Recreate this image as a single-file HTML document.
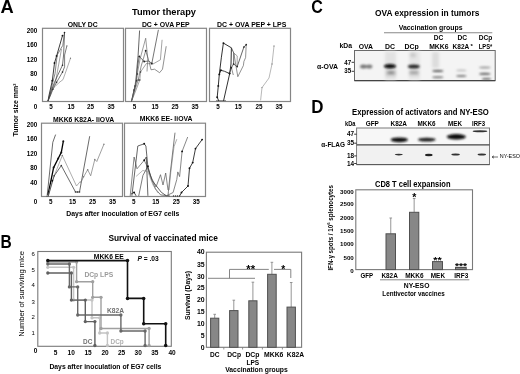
<!DOCTYPE html>
<html><head><meta charset="utf-8"><style>
html,body{margin:0;padding:0;background:#fff;}
svg{display:block;will-change:transform;font-family:"Liberation Sans", sans-serif;}
</style></head><body>
<svg width="520" height="374" viewBox="0 0 520 374">
<text x="0.6" y="13.0" font-size="18" font-weight="bold" fill="#000" textLength="13.2" lengthAdjust="spacingAndGlyphs">A</text>
<text x="132" y="14.8" font-size="9.5" font-weight="bold" fill="#000" textLength="64" lengthAdjust="spacingAndGlyphs">Tumor therapy</text>
<rect x="42.5" y="28.3" width="81.0" height="73.2" fill="none" stroke="#858585" stroke-width="1.2" />
<rect x="125.5" y="28.3" width="81.0" height="73.2" fill="none" stroke="#858585" stroke-width="1.2" />
<rect x="209.5" y="28.3" width="81.0" height="73.2" fill="none" stroke="#858585" stroke-width="1.2" />
<rect x="41.5" y="123.2" width="81.0" height="73.3" fill="none" stroke="#858585" stroke-width="1.2" />
<rect x="124.5" y="123.2" width="81.0" height="73.3" fill="none" stroke="#858585" stroke-width="1.2" />
<text x="67.7" y="27.1" font-size="6.3" font-weight="bold" fill="#000" textLength="30.1" lengthAdjust="spacingAndGlyphs">ONLY DC</text>
<text x="141.9" y="27.1" font-size="6.3" font-weight="bold" fill="#000" textLength="47.7" lengthAdjust="spacingAndGlyphs">DC + OVA PEP</text>
<text x="217" y="27.1" font-size="6.3" font-weight="bold" fill="#000" textLength="69.3" lengthAdjust="spacingAndGlyphs">DC + OVA PEP + LPS</text>
<text x="53" y="121.6" font-size="6.5" font-weight="bold" fill="#000" textLength="61.2" lengthAdjust="spacingAndGlyphs">MKK6 K82A- IiOVA</text>
<text x="139.7" y="121.2" font-size="6.5" font-weight="bold" fill="#000" textLength="52.8" lengthAdjust="spacingAndGlyphs">MKK6 EE- IiOVA</text>
<text x="37.3" y="32.5" font-size="6.3" font-weight="bold" fill="#000" text-anchor="end">200</text>
<text x="37.3" y="47.0" font-size="6.3" font-weight="bold" fill="#000" text-anchor="end">160</text>
<text x="37.3" y="61.599999999999994" font-size="6.3" font-weight="bold" fill="#000" text-anchor="end">120</text>
<text x="37.3" y="76.2" font-size="6.3" font-weight="bold" fill="#000" text-anchor="end">80</text>
<text x="37.3" y="90.89999999999999" font-size="6.3" font-weight="bold" fill="#000" text-anchor="end">40</text>
<text x="37.3" y="108.7" font-size="6.3" font-weight="bold" fill="#000" text-anchor="end">0</text>
<text x="37.3" y="126.7" font-size="6.3" font-weight="bold" fill="#000" text-anchor="end">200</text>
<text x="37.3" y="141.10000000000002" font-size="6.3" font-weight="bold" fill="#000" text-anchor="end">160</text>
<text x="37.3" y="155.5" font-size="6.3" font-weight="bold" fill="#000" text-anchor="end">120</text>
<text x="37.3" y="170.10000000000002" font-size="6.3" font-weight="bold" fill="#000" text-anchor="end">80</text>
<text x="37.3" y="184.5" font-size="6.3" font-weight="bold" fill="#000" text-anchor="end">40</text>
<text x="37.3" y="203.8" font-size="6.3" font-weight="bold" fill="#000" text-anchor="end">0</text>
<text x="50.9" y="108.9" font-size="6.3" font-weight="bold" fill="#000" text-anchor="middle">5</text>
<text x="70.9" y="108.9" font-size="6.3" font-weight="bold" fill="#000" text-anchor="middle">15</text>
<text x="90.6" y="108.9" font-size="6.3" font-weight="bold" fill="#000" text-anchor="middle">25</text>
<text x="110.9" y="108.9" font-size="6.3" font-weight="bold" fill="#000" text-anchor="middle">35</text>
<text x="134.4" y="108.9" font-size="6.3" font-weight="bold" fill="#000" text-anchor="middle">5</text>
<text x="155" y="108.9" font-size="6.3" font-weight="bold" fill="#000" text-anchor="middle">15</text>
<text x="175" y="108.9" font-size="6.3" font-weight="bold" fill="#000" text-anchor="middle">25</text>
<text x="195" y="108.9" font-size="6.3" font-weight="bold" fill="#000" text-anchor="middle">35</text>
<text x="218" y="108.9" font-size="6.3" font-weight="bold" fill="#000" text-anchor="middle">5</text>
<text x="238.3" y="108.9" font-size="6.3" font-weight="bold" fill="#000" text-anchor="middle">15</text>
<text x="259" y="108.9" font-size="6.3" font-weight="bold" fill="#000" text-anchor="middle">25</text>
<text x="279" y="108.9" font-size="6.3" font-weight="bold" fill="#000" text-anchor="middle">35</text>
<text x="50.8" y="203.9" font-size="6.3" font-weight="bold" fill="#000" text-anchor="middle">5</text>
<text x="72.5" y="203.9" font-size="6.3" font-weight="bold" fill="#000" text-anchor="middle">15</text>
<text x="92.5" y="203.9" font-size="6.3" font-weight="bold" fill="#000" text-anchor="middle">25</text>
<text x="112.5" y="203.9" font-size="6.3" font-weight="bold" fill="#000" text-anchor="middle">35</text>
<text x="133.8" y="203.9" font-size="6.3" font-weight="bold" fill="#000" text-anchor="middle">5</text>
<text x="155.8" y="203.9" font-size="6.3" font-weight="bold" fill="#000" text-anchor="middle">15</text>
<text x="176.3" y="203.9" font-size="6.3" font-weight="bold" fill="#000" text-anchor="middle">25</text>
<text x="196.3" y="203.9" font-size="6.3" font-weight="bold" fill="#000" text-anchor="middle">35</text>
<text x="18" y="110" font-size="7" font-weight="bold" fill="#000" text-anchor="middle" transform="rotate(-90 18 110)">Tumor size mm<tspan font-size="4" dy="-2.5">2</tspan></text>
<text x="66.3" y="216.2" font-size="7" font-weight="bold" fill="#000" textLength="113" lengthAdjust="spacingAndGlyphs">Days after inoculation of EG7 cells</text>
<polyline points="48,101 49.1,95 52.3,80.7 54.5,63 56.6,56 62.5,35.6" fill="none" stroke="#1a1a1a" stroke-width="0.85" stroke-linejoin="round" />
<circle cx="52.3" cy="80.7" r="0.95" fill="#111"/>
<circle cx="54.5" cy="63" r="0.95" fill="#111"/>
<circle cx="56.6" cy="56" r="0.95" fill="#111"/>
<circle cx="62.5" cy="35.6" r="0.95" fill="#111"/>
<polyline points="48,101 50.5,92 52.9,81.7 55,73.7 57.2,55 62.8,45.3 64.5,32.6" fill="none" stroke="#444" stroke-width="0.65" stroke-linejoin="round" />
<polyline points="48,101 53.4,87 55.6,81.7 60.4,55 61.5,49" fill="none" stroke="#666" stroke-width="0.6" stroke-linejoin="round" />
<polyline points="48,101 51.5,90 54.5,82.3 57.7,75.3 62.5,65.2 63.6,55 64.5,32.6" fill="none" stroke="#333" stroke-width="0.7" stroke-linejoin="round" />
<polyline points="48,101 50.7,95 52.9,89.2 56.6,82.3 62.5,72.1 64.6,66.8 64.6,55 66.9,45.8" fill="none" stroke="#444" stroke-width="0.7" stroke-linejoin="round" />
<polyline points="52.3,89.2 55,86.6 58.8,82.8 63,79.6 66.8,68.9 70.5,58.2" fill="none" stroke="#777" stroke-width="0.6" stroke-linejoin="round" />
<circle cx="52.9" cy="89.2" r="0.8" fill="#222"/>
<circle cx="56.6" cy="82.3" r="0.8" fill="#222"/>
<circle cx="62.5" cy="72.1" r="0.8" fill="#222"/>
<circle cx="62.5" cy="65.2" r="0.8" fill="#222"/>
<circle cx="64.5" cy="32.6" r="0.8" fill="#222"/>
<circle cx="66.9" cy="45.8" r="0.6" fill="#666"/>
<circle cx="70.5" cy="58.2" r="0.6" fill="#666"/>
<polyline points="131.5,101.4 134,90 136.6,80.7 137.1,66 138.1,55.4 139.6,30.5" fill="none" stroke="#333" stroke-width="0.75" stroke-linejoin="round" />
<polyline points="131.5,101.4 135,86 137,70 139.3,56.4 144.2,61.5 148.8,61 151.8,63.5 158.4,29.8" fill="none" stroke="#3a3a3a" stroke-width="0.7" stroke-linejoin="round" />
<polyline points="131.5,101.4 135,88 138,70 140.2,58.5 145.7,38.2 147.8,58.5 147,71.5" fill="none" stroke="#666" stroke-width="0.65" stroke-linejoin="round" />
<polyline points="132,100 135.5,88 138.2,80 141.2,66 145.7,50.8 149.3,62.5 151,69.8 154.5,69.2 159.6,72.7 162.5,69.2 166.2,46.2" fill="none" stroke="#555" stroke-width="0.65" stroke-linejoin="round" />
<polyline points="132,100 136,90 139.8,80 140.5,72 146.4,63.5 153,64 160.4,59.8 162.1,39.8" fill="none" stroke="#666" stroke-width="0.6" stroke-linejoin="round" />
<circle cx="139.3" cy="56.4" r="0.95" fill="#222"/>
<circle cx="144.2" cy="61.5" r="0.95" fill="#222"/>
<circle cx="151.8" cy="63.5" r="0.95" fill="#222"/>
<circle cx="145.7" cy="50.8" r="0.95" fill="#222"/>
<circle cx="134" cy="90" r="0.8" fill="#333"/>
<circle cx="136.6" cy="80.7" r="0.8" fill="#333"/>
<circle cx="135" cy="86" r="0.8" fill="#333"/>
<circle cx="138.2" cy="80" r="0.8" fill="#333"/>
<circle cx="139.8" cy="80" r="0.8" fill="#333"/>
<circle cx="137.5" cy="74" r="0.8" fill="#333"/>
<circle cx="140.5" cy="72" r="0.8" fill="#333"/>
<polyline points="218.8,101 217.2,97.3 218.3,85.9 219.3,74.4 221.4,57.2 223.4,43.1 231.4,47.8 231,64 229.7,73.6 223.5,101" fill="none" stroke="#1a1a1a" stroke-width="0.9" stroke-linejoin="round" />
<polyline points="219.3,74.4 220.9,70.3 224.5,71.3 229.7,73.6" fill="none" stroke="#222" stroke-width="0.9" stroke-linejoin="round" />
<polyline points="231.4,47.8 233.8,53.1 233.6,64 231.4,67.7 229.4,73.3" fill="none" stroke="#333" stroke-width="0.75" stroke-linejoin="round" />
<polyline points="233.6,64 237.2,66.6 243.9,47 246.2,44.7" fill="none" stroke="#333" stroke-width="0.75" stroke-linejoin="round" />
<polyline points="246.2,44.7 245.6,57.6 243.9,61.5 243.4,65.5 237.8,76.7 233.8,53.1" fill="none" stroke="#555" stroke-width="0.65" stroke-linejoin="round" />
<polyline points="231.4,67.7 233.3,75" fill="none" stroke="#555" stroke-width="0.65" stroke-linejoin="round" />
<polyline points="233.8,53.1 237.2,55.9 237.2,66.6" fill="none" stroke="#666" stroke-width="0.6" stroke-linejoin="round" />
<circle cx="233.6" cy="64" r="0.85" fill="#222"/>
<circle cx="231.4" cy="67.7" r="0.85" fill="#222"/>
<circle cx="229.4" cy="73.3" r="0.85" fill="#222"/>
<circle cx="237.2" cy="66.6" r="0.85" fill="#222"/>
<circle cx="243.9" cy="47" r="0.85" fill="#222"/>
<circle cx="246.2" cy="44.7" r="0.85" fill="#222"/>
<polyline points="260.6,100.4 262,87.6 269,78 272,64 274,46" fill="none" stroke="#888" stroke-width="0.6" stroke-linejoin="round" />
<circle cx="217.2" cy="97.3" r="0.95" fill="#111"/>
<circle cx="223.4" cy="43.1" r="0.95" fill="#111"/>
<circle cx="220.9" cy="70.3" r="0.95" fill="#111"/>
<circle cx="229.7" cy="73.6" r="0.95" fill="#111"/>
<circle cx="218.3" cy="85.9" r="0.95" fill="#111"/>
<circle cx="219.3" cy="74.4" r="0.95" fill="#111"/>
<circle cx="262" cy="87.6" r="0.7" fill="#888"/>
<circle cx="272" cy="64" r="0.7" fill="#888"/>
<circle cx="274" cy="46" r="0.7" fill="#888"/>
<circle cx="217" cy="100.6" r="0.7" fill="#333"/>
<circle cx="219" cy="100.6" r="0.7" fill="#333"/>
<circle cx="221" cy="100.6" r="0.7" fill="#333"/>
<circle cx="223" cy="100.6" r="0.7" fill="#333"/>
<circle cx="225" cy="100.6" r="0.7" fill="#333"/>
<polyline points="47,197 52.8,142.3 55.6,134.6" fill="none" stroke="#444" stroke-width="0.8" stroke-linejoin="round" />
<polyline points="48,195 53.6,167.6 58.2,158.5 61.3,152.4 63.3,141.3" fill="none" stroke="#000" stroke-width="1.3" stroke-linejoin="round" />
<polyline points="48,197 52.2,180.8 62.3,155.5 76.5,186 80.5,181.2" fill="none" stroke="#999" stroke-width="0.8" stroke-linejoin="round" />
<polyline points="48,197 54.2,175.8 61.3,165.6 75.5,192 79.5,192 89.7,136.2" fill="none" stroke="#444" stroke-width="0.8" stroke-linejoin="round" />
<polyline points="80.5,183 83.6,176.8 87.7,169.7 90.7,175.8 94.8,159.5 96.8,161.5 103.9,144.3" fill="none" stroke="#777" stroke-width="0.7" stroke-linejoin="round" />
<circle cx="53.6" cy="167.6" r="1.0" fill="#111"/>
<circle cx="58.2" cy="158.5" r="1.0" fill="#111"/>
<circle cx="61.3" cy="152.4" r="1.0" fill="#111"/>
<circle cx="63.3" cy="141.3" r="1.0" fill="#111"/>
<circle cx="52.2" cy="180.8" r="1.0" fill="#111"/>
<circle cx="75.5" cy="192" r="0.8" fill="#333"/>
<circle cx="77.5" cy="192" r="0.8" fill="#333"/>
<circle cx="79.5" cy="192" r="0.8" fill="#333"/>
<circle cx="61.3" cy="165.6" r="0.8" fill="#333"/>
<circle cx="54.2" cy="175.8" r="0.8" fill="#333"/>
<circle cx="83.6" cy="176.8" r="0.7" fill="#777"/>
<circle cx="87.7" cy="169.7" r="0.7" fill="#777"/>
<circle cx="94.8" cy="159.5" r="0.7" fill="#777"/>
<circle cx="103.9" cy="144.3" r="0.7" fill="#777"/>
<circle cx="62.3" cy="155.5" r="0.7" fill="#777"/>
<polyline points="131.9,195.8 137.8,146 144.2,143.8 145.9,146 147.9,167.1 152.2,180.6 161.4,192.4 166,195.5" fill="none" stroke="#333" stroke-width="0.75" stroke-linejoin="round" />
<polyline points="130.2,196 134.1,157 137,168.8 144.2,160.3 146.3,164.5 150,175 156,187 160.5,174.7 163,185 165.7,173 168,190" fill="none" stroke="#555" stroke-width="0.7" stroke-linejoin="round" />
<polyline points="131.1,194 134.1,192.4 136.1,195.8" fill="none" stroke="#222" stroke-width="0.8" stroke-linejoin="round" />
<polyline points="138.7,196 142.9,175.5 147.9,166.2 148.8,170.4 151.3,178.9 155.5,189 160.6,194.9 170,196" fill="none" stroke="#444" stroke-width="0.7" stroke-linejoin="round" />
<polyline points="147.9,195.8 146.3,157 144.2,160.3" fill="none" stroke="#333" stroke-width="0.75" stroke-linejoin="round" />
<polyline points="136.1,176.4 142.9,170.4 148,172 153,185 158,193" fill="none" stroke="#888" stroke-width="0.6" stroke-linejoin="round" />
<polyline points="175,132.7 173.1,148.6 170.3,172.9 168.4,191.6 168,196" fill="none" stroke="#444" stroke-width="0.7" stroke-linejoin="round" />
<polyline points="176.8,139.2 174,146.7 171,170 169,190" fill="none" stroke="#777" stroke-width="0.6" stroke-linejoin="round" />
<polyline points="187.7,137 182.1,151.4 179.6,176.6 177.8,171.9 176.8,179.4 173.1,192.5 166,196" fill="none" stroke="#555" stroke-width="0.7" stroke-linejoin="round" />
<polyline points="202.1,139.6 195.5,148.6 192.7,162.6 189.5,168.2 188,186 181.5,192.5 179.6,196" fill="none" stroke="#1a1a1a" stroke-width="0.85" stroke-linejoin="round" />
<circle cx="202.1" cy="139.6" r="0.95" fill="#111"/>
<circle cx="195.5" cy="148.6" r="0.95" fill="#111"/>
<circle cx="192.7" cy="162.6" r="0.95" fill="#111"/>
<circle cx="189.5" cy="168.2" r="0.95" fill="#111"/>
<circle cx="188" cy="186" r="0.95" fill="#111"/>
<circle cx="181.5" cy="192.5" r="0.95" fill="#111"/>
<circle cx="182.1" cy="151.4" r="0.95" fill="#111"/>
<circle cx="144.2" cy="143.8" r="0.95" fill="#111"/>
<circle cx="144.2" cy="160.3" r="0.95" fill="#111"/>
<circle cx="147.9" cy="166.2" r="0.95" fill="#111"/>
<circle cx="134.1" cy="192.4" r="0.95" fill="#111"/>
<circle cx="173.5" cy="196" r="0.7" fill="#333"/>
<circle cx="175.5" cy="196" r="0.7" fill="#333"/>
<circle cx="177.5" cy="196" r="0.7" fill="#333"/>
<circle cx="179.5" cy="196" r="0.7" fill="#333"/>
<text x="0.5" y="247.8" font-size="18" font-weight="bold" fill="#000" textLength="11.2" lengthAdjust="spacingAndGlyphs">B</text>
<text x="108.4" y="240.7" font-size="9.6" font-weight="bold" fill="#000" textLength="109.5" lengthAdjust="spacingAndGlyphs">Survival of vaccinated mice</text>
<rect x="37.8" y="251.5" width="133.5" height="94.80000000000001" fill="none" stroke="#7a7a7a" stroke-width="1.1" />
<text x="34.9" y="255.9" font-size="6.0" font-weight="normal" fill="#000" text-anchor="end">6</text>
<text x="34.9" y="271.8" font-size="6.0" font-weight="normal" fill="#000" text-anchor="end">5</text>
<text x="34.9" y="287.3" font-size="6.0" font-weight="normal" fill="#000" text-anchor="end">4</text>
<text x="34.9" y="303.5" font-size="6.0" font-weight="normal" fill="#000" text-anchor="end">3</text>
<text x="34.9" y="319.0" font-size="6.0" font-weight="normal" fill="#000" text-anchor="end">2</text>
<text x="34.9" y="334.70000000000005" font-size="6.0" font-weight="normal" fill="#000" text-anchor="end">1</text>
<text x="35.6" y="352.6" font-size="6.5" font-weight="bold" fill="#000" text-anchor="middle">0</text>
<text x="55.6" y="354.5" font-size="6.5" font-weight="bold" fill="#000" text-anchor="middle">5</text>
<text x="71.2" y="354.5" font-size="6.5" font-weight="bold" fill="#000" text-anchor="middle">10</text>
<text x="88" y="354.5" font-size="6.5" font-weight="bold" fill="#000" text-anchor="middle">15</text>
<text x="105" y="354.5" font-size="6.5" font-weight="bold" fill="#000" text-anchor="middle">20</text>
<text x="121.5" y="354.5" font-size="6.5" font-weight="bold" fill="#000" text-anchor="middle">25</text>
<text x="138.2" y="354.5" font-size="6.5" font-weight="bold" fill="#000" text-anchor="middle">30</text>
<text x="154.8" y="354.5" font-size="6.5" font-weight="bold" fill="#000" text-anchor="middle">35</text>
<text x="172" y="354.5" font-size="6.5" font-weight="bold" fill="#000" text-anchor="middle">40</text>
<text x="24.2" y="293.9" font-size="7.4" font-weight="normal" fill="#000" text-anchor="middle" textLength="85.6" lengthAdjust="spacingAndGlyphs" transform="rotate(-90 24.2 293.9)">Number of surviving mice</text>
<text x="49.4" y="368.9" font-size="7" font-weight="bold" fill="#000" textLength="112" lengthAdjust="spacingAndGlyphs">Days after inoculation of EG7 cells</text>
<polyline points="47.8,267.3 73.6,267.3 73.6,300 92,300 92,317.8 99.7,317.8 99.7,333 107.4,333 107.4,345.5" fill="none" stroke="#c4c4c4" stroke-width="1.4" stroke-linejoin="round" stroke-linecap="butt"/>
<circle cx="47.8" cy="267.3" r="1.65" fill="#c4c4c4"/>
<circle cx="73.6" cy="267.3" r="1.65" fill="#c4c4c4"/>
<circle cx="73.6" cy="300" r="1.65" fill="#c4c4c4"/>
<circle cx="92" cy="300" r="1.65" fill="#c4c4c4"/>
<circle cx="92" cy="317.8" r="1.65" fill="#c4c4c4"/>
<circle cx="99.7" cy="317.8" r="1.65" fill="#c4c4c4"/>
<circle cx="99.7" cy="333" r="1.65" fill="#c4c4c4"/>
<circle cx="107.4" cy="333" r="1.65" fill="#c4c4c4"/>
<circle cx="107.4" cy="345.5" r="1.65" fill="#c4c4c4"/>
<polyline points="47.8,262 76.6,262 76.6,281.7 92.7,281.7 92.7,297.3 101,297.3 101,328.5 149.1,328.5 149.1,345.5" fill="none" stroke="#a0a0a0" stroke-width="1.4" stroke-linejoin="round" stroke-linecap="butt"/>
<circle cx="47.8" cy="262" r="1.65" fill="#a0a0a0"/>
<circle cx="76.6" cy="262" r="1.65" fill="#a0a0a0"/>
<circle cx="76.6" cy="281.7" r="1.65" fill="#a0a0a0"/>
<circle cx="92.7" cy="281.7" r="1.65" fill="#a0a0a0"/>
<circle cx="92.7" cy="297.3" r="1.65" fill="#a0a0a0"/>
<circle cx="101" cy="297.3" r="1.65" fill="#a0a0a0"/>
<circle cx="101" cy="328.5" r="1.65" fill="#a0a0a0"/>
<circle cx="149.1" cy="328.5" r="1.65" fill="#a0a0a0"/>
<circle cx="149.1" cy="345.5" r="1.65" fill="#a0a0a0"/>
<polyline points="47.8,264 69.4,264 69.4,286.9 77.7,286.9 77.7,315 120.9,315 120.9,331 145.1,331 145.1,345.5" fill="none" stroke="#686868" stroke-width="1.4" stroke-linejoin="round" stroke-linecap="butt"/>
<circle cx="47.8" cy="264" r="1.65" fill="#686868"/>
<circle cx="69.4" cy="264" r="1.65" fill="#686868"/>
<circle cx="69.4" cy="286.9" r="1.65" fill="#686868"/>
<circle cx="77.7" cy="286.9" r="1.65" fill="#686868"/>
<circle cx="77.7" cy="315" r="1.65" fill="#686868"/>
<circle cx="120.9" cy="315" r="1.65" fill="#686868"/>
<circle cx="120.9" cy="331" r="1.65" fill="#686868"/>
<circle cx="145.1" cy="331" r="1.65" fill="#686868"/>
<circle cx="145.1" cy="345.5" r="1.65" fill="#686868"/>
<polyline points="47.8,273 71.4,273 71.4,300.1 85.3,300.1 85.3,321.6 94.9,321.6 94.9,345.5" fill="none" stroke="#606060" stroke-width="1.4" stroke-linejoin="round" stroke-linecap="butt"/>
<circle cx="47.8" cy="273" r="1.65" fill="#606060"/>
<circle cx="71.4" cy="273" r="1.65" fill="#606060"/>
<circle cx="71.4" cy="300.1" r="1.65" fill="#606060"/>
<circle cx="85.3" cy="300.1" r="1.65" fill="#606060"/>
<circle cx="85.3" cy="321.6" r="1.65" fill="#606060"/>
<circle cx="94.9" cy="321.6" r="1.65" fill="#606060"/>
<circle cx="94.9" cy="345.5" r="1.65" fill="#606060"/>
<polyline points="47.8,260.6 127.5,260.6 127.5,298.4 143.7,298.4 143.7,323.7 165.7,323.7 165.7,345.5" fill="none" stroke="#111" stroke-width="1.6" stroke-linejoin="round" stroke-linecap="butt"/>
<circle cx="47.8" cy="260.6" r="1.75" fill="#111"/>
<circle cx="127.5" cy="260.6" r="1.75" fill="#111"/>
<circle cx="127.5" cy="298.4" r="1.75" fill="#111"/>
<circle cx="143.7" cy="298.4" r="1.75" fill="#111"/>
<circle cx="143.7" cy="323.7" r="1.75" fill="#111"/>
<circle cx="165.7" cy="323.7" r="1.75" fill="#111"/>
<circle cx="165.7" cy="345.5" r="1.75" fill="#111"/>
<text x="93.8" y="259.4" font-size="6.8" font-weight="bold" fill="#000" textLength="30" lengthAdjust="spacingAndGlyphs">MKK6 EE</text>
<text x="137.5" y="261.2" font-size="6.5" font-weight="bold" fill="#000" textLength="21.3" lengthAdjust="spacingAndGlyphs"><tspan font-style="italic">P</tspan> = .03</text>
<text x="84.4" y="277.1" font-size="7" font-weight="bold" fill="#9a9a9a" textLength="28.8" lengthAdjust="spacingAndGlyphs">DCp LPS</text>
<text x="107" y="313.1" font-size="7" font-weight="bold" fill="#707070" textLength="17.1" lengthAdjust="spacingAndGlyphs">K82A</text>
<text x="83.1" y="344.2" font-size="7" font-weight="bold" fill="#707070" textLength="9.3" lengthAdjust="spacingAndGlyphs">DC</text>
<text x="110.5" y="344.2" font-size="7" font-weight="bold" fill="#b0b0b0" textLength="13.2" lengthAdjust="spacingAndGlyphs">DCp</text>
<rect x="206.4" y="252.2" width="95.20000000000002" height="95.10000000000002" fill="none" stroke="#7a7a7a" stroke-width="1.1" />
<text x="204.6" y="253.9" font-size="6.9" font-weight="bold" fill="#000" text-anchor="end">40</text>
<text x="204.6" y="266.5" font-size="6.9" font-weight="bold" fill="#000" text-anchor="end">35</text>
<text x="204.6" y="278.7" font-size="6.9" font-weight="bold" fill="#000" text-anchor="end">30</text>
<text x="204.6" y="290.3" font-size="6.9" font-weight="bold" fill="#000" text-anchor="end">25</text>
<text x="204.6" y="302.2" font-size="6.9" font-weight="bold" fill="#000" text-anchor="end">20</text>
<text x="204.6" y="314.3" font-size="6.9" font-weight="bold" fill="#000" text-anchor="end">15</text>
<text x="204.6" y="326.0" font-size="6.9" font-weight="bold" fill="#000" text-anchor="end">10</text>
<text x="204.6" y="337.8" font-size="6.9" font-weight="bold" fill="#000" text-anchor="end">5</text>
<text x="204.6" y="349.8" font-size="6.9" font-weight="bold" fill="#000" text-anchor="end">0</text>
<text x="190" y="295.5" font-size="7" font-weight="bold" fill="#000" text-anchor="middle" textLength="49" lengthAdjust="spacingAndGlyphs" transform="rotate(-90 190 295.5)">Survival (Days)</text>
<polyline points="214.7,318.2 214.7,314.3" fill="none" stroke="#8a8a8a" stroke-width="0.9" stroke-linejoin="round" />
<polyline points="213.39999999999998,314.3 216.0,314.3" fill="none" stroke="#8a8a8a" stroke-width="0.9" stroke-linejoin="round" />
<rect x="210.6" y="318.2" width="8.200000000000017" height="29.100000000000023" fill="#878787" stroke="#505050" stroke-width="1.0" />
<polyline points="233.8,310.6 233.8,300.2" fill="none" stroke="#8a8a8a" stroke-width="0.9" stroke-linejoin="round" />
<polyline points="232.5,300.2 235.10000000000002,300.2" fill="none" stroke="#8a8a8a" stroke-width="0.9" stroke-linejoin="round" />
<rect x="229.6" y="310.6" width="8.400000000000006" height="36.69999999999999" fill="#878787" stroke="#505050" stroke-width="1.0" />
<polyline points="252.9,300.8 252.9,282.2" fill="none" stroke="#8a8a8a" stroke-width="0.9" stroke-linejoin="round" />
<polyline points="251.6,282.2 254.20000000000002,282.2" fill="none" stroke="#8a8a8a" stroke-width="0.9" stroke-linejoin="round" />
<rect x="248.8" y="300.8" width="8.199999999999989" height="46.5" fill="#878787" stroke="#505050" stroke-width="1.0" />
<polyline points="271.9,274.3 271.9,262.3" fill="none" stroke="#8a8a8a" stroke-width="0.9" stroke-linejoin="round" />
<polyline points="270.59999999999997,262.3 273.2,262.3" fill="none" stroke="#8a8a8a" stroke-width="0.9" stroke-linejoin="round" />
<rect x="267.6" y="274.3" width="8.599999999999966" height="73.0" fill="#878787" stroke="#505050" stroke-width="1.0" />
<polyline points="291.2,307.1 291.2,282.5" fill="none" stroke="#8a8a8a" stroke-width="0.9" stroke-linejoin="round" />
<polyline points="289.9,282.5 292.5,282.5" fill="none" stroke="#8a8a8a" stroke-width="0.9" stroke-linejoin="round" />
<rect x="287" y="307.1" width="8.399999999999977" height="40.19999999999999" fill="#878787" stroke="#505050" stroke-width="1.0" />
<polyline points="223.8,347.3 223.8,349.5" fill="none" stroke="#7a7a7a" stroke-width="0.8" stroke-linejoin="round" />
<polyline points="242.6,347.3 242.6,349.5" fill="none" stroke="#7a7a7a" stroke-width="0.8" stroke-linejoin="round" />
<polyline points="262.4,347.3 262.4,349.5" fill="none" stroke="#7a7a7a" stroke-width="0.8" stroke-linejoin="round" />
<polyline points="282.4,347.3 282.4,349.5" fill="none" stroke="#7a7a7a" stroke-width="0.8" stroke-linejoin="round" />
<polyline points="208,278.3 255,278.3" fill="none" stroke="#777" stroke-width="0.9" stroke-linejoin="round" />
<polyline points="229.5,278.3 229.5,269.4 268.8,269.4" fill="none" stroke="#777" stroke-width="0.9" stroke-linejoin="round" />
<polyline points="274,269.4 290.8,269.4 290.8,278" fill="none" stroke="#777" stroke-width="0.9" stroke-linejoin="round" />
<text x="246.3" y="273" font-size="10" font-weight="bold" fill="#000" textLength="8.8" lengthAdjust="spacingAndGlyphs">**</text>
<text x="281.3" y="273" font-size="10" font-weight="bold" fill="#000" textLength="4" lengthAdjust="spacingAndGlyphs">*</text>
<text x="210" y="356.8" font-size="6.6" font-weight="bold" fill="#000" textLength="9.5" lengthAdjust="spacingAndGlyphs">DC</text>
<text x="227.2" y="356.8" font-size="6.6" font-weight="bold" fill="#000" textLength="13.800000000000011" lengthAdjust="spacingAndGlyphs">DCp</text>
<text x="245.4" y="356.8" font-size="6.6" font-weight="bold" fill="#000" textLength="14.099999999999994" lengthAdjust="spacingAndGlyphs">DCp</text>
<text x="264" y="356.8" font-size="6.6" font-weight="bold" fill="#000" textLength="19.399999999999977" lengthAdjust="spacingAndGlyphs">MKK6</text>
<text x="286.8" y="356.8" font-size="6.6" font-weight="bold" fill="#000" textLength="17.19999999999999" lengthAdjust="spacingAndGlyphs">K82A</text>
<text x="246.4" y="364.8" font-size="6.6" font-weight="bold" fill="#000" textLength="12.7" lengthAdjust="spacingAndGlyphs">LPS</text>
<text x="225.2" y="371.8" font-size="7.0" font-weight="bold" fill="#000" textLength="62.6" lengthAdjust="spacingAndGlyphs">Vaccination groups</text>
<defs><filter id="b1" x="-50%" y="-50%" width="200%" height="200%"><feGaussianBlur stdDeviation="1.0"/></filter><filter id="b2" x="-50%" y="-50%" width="200%" height="200%"><feGaussianBlur stdDeviation="1.6"/></filter><filter id="b05" x="-50%" y="-50%" width="200%" height="200%"><feGaussianBlur stdDeviation="0.5"/></filter></defs>
<text x="311.3" y="12.8" font-size="18" font-weight="bold" fill="#000" textLength="11.6" lengthAdjust="spacingAndGlyphs">C</text>
<text x="375" y="15.6" font-size="8.6" font-weight="bold" fill="#000" textLength="104.3" lengthAdjust="spacingAndGlyphs">OVA expression in tumors</text>
<text x="398.7" y="30.2" font-size="7.2" font-weight="bold" fill="#000" textLength="63.8" lengthAdjust="spacingAndGlyphs">Vaccination groups</text>
<polyline points="384,32.7 492.3,32.7" fill="none" stroke="#888" stroke-width="1.1" stroke-linejoin="round" />
<text x="339.5" y="48.3" font-size="6.4" font-weight="bold" fill="#000" textLength="12.5" lengthAdjust="spacingAndGlyphs">kDa</text>
<text x="358.7" y="48.5" font-size="7.2" font-weight="bold" fill="#000" textLength="14.300000000000011" lengthAdjust="spacingAndGlyphs">OVA</text>
<text x="385" y="48.5" font-size="7.2" font-weight="bold" fill="#000" textLength="10" lengthAdjust="spacingAndGlyphs">DC</text>
<text x="404.5" y="48.5" font-size="7.2" font-weight="bold" fill="#000" textLength="14.300000000000011" lengthAdjust="spacingAndGlyphs">DCp</text>
<text x="433.8" y="40.3" font-size="7.2" font-weight="bold" fill="#000" textLength="9.5" lengthAdjust="spacingAndGlyphs">DC</text>
<text x="429.2" y="48.5" font-size="7.2" font-weight="bold" fill="#000" textLength="19.3" lengthAdjust="spacingAndGlyphs">MKK6</text>
<text x="457.4" y="40.3" font-size="7.2" font-weight="bold" fill="#000" textLength="9.6" lengthAdjust="spacingAndGlyphs">DC</text>
<text x="452.6" y="48.5" font-size="7.2" font-weight="bold" fill="#000" textLength="16.6" lengthAdjust="spacingAndGlyphs">K82A</text>
<text x="470.6" y="48.3" font-size="6" font-weight="bold" fill="#000">*</text>
<text x="478.8" y="40.3" font-size="7.2" font-weight="bold" fill="#000" textLength="13.5" lengthAdjust="spacingAndGlyphs">DCp</text>
<text x="478.8" y="48.5" font-size="7.2" font-weight="bold" fill="#000" textLength="13.5" lengthAdjust="spacingAndGlyphs">LPS*</text>
<text x="344.3" y="65.2" font-size="6.8" font-weight="bold" fill="#000" textLength="6.8" lengthAdjust="spacingAndGlyphs">47</text>
<text x="344.3" y="73.4" font-size="6.8" font-weight="bold" fill="#000" textLength="6.8" lengthAdjust="spacingAndGlyphs">35</text>
<polyline points="351.6,62.3 354,62.3" fill="none" stroke="#222" stroke-width="0.9" stroke-linejoin="round" />
<polyline points="351.6,71.3 354,71.3" fill="none" stroke="#222" stroke-width="0.9" stroke-linejoin="round" />
<text x="317" y="68.8" font-size="6.6" font-weight="bold" fill="#000" textLength="21" lengthAdjust="spacingAndGlyphs">&#945;-OVA</text>
<rect x="354.5" y="50.5" width="140.7" height="30.099999999999994" fill="#f4f4f4" stroke="#6a6a6a" stroke-width="1.0" />
<polyline points="354.5,80.6 495.2,80.6" fill="none" stroke="#444" stroke-width="1.1" stroke-linejoin="round" />
<g filter="url(#b2)">
<rect x="385" y="51.5" width="11" height="28" fill="#e2e2e2"/>
<rect x="409" y="51.5" width="11" height="28" fill="#e6e6e6"/>
<ellipse cx="413" cy="55" rx="3" ry="2.5" fill="#c8c8c8"/>
<rect x="432" y="52" width="7" height="16" fill="#dddddd"/>
<rect x="386" y="70.5" width="10" height="5" fill="#b8b8b8"/>
<rect x="409" y="70.5" width="10" height="5" fill="#c4c4c4"/>
</g>
<g filter="url(#b1)">
<ellipse cx="363.5" cy="66.5" rx="3.4" ry="2.1" fill="#777"/>
<ellipse cx="369.2" cy="66.5" rx="3.2" ry="2.0" fill="#7d7d7d"/>
<ellipse cx="390" cy="66.3" rx="6.2" ry="2.2" fill="#0a0a0a"/>
<ellipse cx="391" cy="72.6" rx="3" ry="1.2" fill="#888"/>
<ellipse cx="413.8" cy="66.5" rx="6.1" ry="2.1" fill="#2a2a2a"/>
<ellipse cx="414" cy="72.5" rx="4" ry="1" fill="#a0a0a0"/>
<ellipse cx="437.8" cy="71" rx="5.6" ry="1.1" fill="#555"/>
<ellipse cx="437.8" cy="77.3" rx="5.6" ry="1.0" fill="#777"/>
<ellipse cx="461.3" cy="70.4" rx="5" ry="0.9" fill="#bbb"/>
<ellipse cx="461.3" cy="76" rx="5.2" ry="1.1" fill="#7a7a7a"/>
<ellipse cx="484.8" cy="67.5" rx="5.8" ry="1" fill="#999"/>
<ellipse cx="484.8" cy="73.9" rx="5.8" ry="1.2" fill="#6a6a6a"/>
<ellipse cx="486.5" cy="78.9" rx="4.5" ry="0.9" fill="#555"/>
</g>
<text x="311.2" y="113" font-size="18" font-weight="bold" fill="#000" textLength="12.2" lengthAdjust="spacingAndGlyphs">D</text>
<text x="352" y="114.6" font-size="8.5" font-weight="bold" fill="#000" textLength="136.8" lengthAdjust="spacingAndGlyphs">Expression of activators and NY-ESO</text>
<text x="345" y="125.6" font-size="6.4" font-weight="bold" fill="#000" textLength="10.5" lengthAdjust="spacingAndGlyphs">kDa</text>
<text x="365.7" y="125.6" font-size="6.8" font-weight="bold" fill="#000" textLength="13.100000000000023" lengthAdjust="spacingAndGlyphs">GFP</text>
<text x="390.5" y="125.6" font-size="6.8" font-weight="bold" fill="#000" textLength="16.5" lengthAdjust="spacingAndGlyphs">K82A</text>
<text x="417.5" y="125.6" font-size="6.8" font-weight="bold" fill="#000" textLength="18.0" lengthAdjust="spacingAndGlyphs">MKK6</text>
<text x="448" y="125.6" font-size="6.8" font-weight="bold" fill="#000" textLength="14" lengthAdjust="spacingAndGlyphs">MEK</text>
<text x="472" y="125.6" font-size="6.8" font-weight="bold" fill="#000" textLength="13" lengthAdjust="spacingAndGlyphs">IRF3</text>
<rect x="356.6" y="128" width="132.89999999999998" height="36.599999999999994" fill="#f7f7f7" stroke="#7a7a7a" stroke-width="1.0" />
<rect x="357.2" y="145.6" width="131.8" height="18.599999999999994" fill="#f1f1f1" stroke="none" stroke-width="0" />
<polyline points="356.6,144.8 489.5,144.8" fill="none" stroke="#444" stroke-width="1.3" stroke-linejoin="round" />
<polyline points="356.6,164.6 489.5,164.6" fill="none" stroke="#555" stroke-width="1.0" stroke-linejoin="round" />
<text x="347.0" y="136.3" font-size="6.8" font-weight="bold" fill="#000" textLength="7.1" lengthAdjust="spacingAndGlyphs">47</text>
<polyline points="354.2,134.20000000000002 356.6,134.20000000000002" fill="none" stroke="#222" stroke-width="0.9" stroke-linejoin="round" />
<text x="347.0" y="145.3" font-size="6.8" font-weight="bold" fill="#000" textLength="7.1" lengthAdjust="spacingAndGlyphs">35</text>
<polyline points="354.2,143.20000000000002 356.6,143.20000000000002" fill="none" stroke="#222" stroke-width="0.9" stroke-linejoin="round" />
<text x="347.0" y="158" font-size="6.8" font-weight="bold" fill="#000" textLength="7.1" lengthAdjust="spacingAndGlyphs">18</text>
<polyline points="354.2,155.9 356.6,155.9" fill="none" stroke="#222" stroke-width="0.9" stroke-linejoin="round" />
<text x="347.0" y="165.6" font-size="6.8" font-weight="bold" fill="#000" textLength="7.1" lengthAdjust="spacingAndGlyphs">14</text>
<polyline points="354.2,163.5 356.6,163.5" fill="none" stroke="#222" stroke-width="0.9" stroke-linejoin="round" />
<text x="321.3" y="146.8" font-size="6.6" font-weight="bold" fill="#000" textLength="23.7" lengthAdjust="spacingAndGlyphs">&#945;-FLAG</text>
<g filter="url(#b1)">
<ellipse cx="399.3" cy="139.8" rx="8.6" ry="2.4" fill="#111"/>
<ellipse cx="426.8" cy="139.7" rx="8.8" ry="1.9" fill="#1e1e1e"/>
<ellipse cx="456.3" cy="136.8" rx="9.6" ry="2.7" fill="#0a0a0a"/>
</g>
<g filter="url(#b05)">
<ellipse cx="398.8" cy="154.6" rx="4" ry="0.8" fill="#333"/>
<ellipse cx="480" cy="131.2" rx="7.4" ry="1.0" fill="#333"/>
<ellipse cx="428.8" cy="155" rx="3.8" ry="1.2" fill="#222"/>
<ellipse cx="455.6" cy="154.5" rx="4.2" ry="1" fill="#333"/>
<ellipse cx="481.8" cy="154.5" rx="4.2" ry="1" fill="#333"/>
</g>
<polyline points="492,157 498,157" fill="none" stroke="#333" stroke-width="0.7" stroke-linejoin="round" />
<polyline points="494,155.8 492,157 494,158.2" fill="none" stroke="#333" stroke-width="0.7" stroke-linejoin="round" />
<text x="499.8" y="158.4" font-size="6.2" font-weight="normal" fill="#000" textLength="20.2" lengthAdjust="spacingAndGlyphs">NY-ESO</text>
<text x="375" y="187" font-size="8.4" font-weight="bold" fill="#000" textLength="75.5" lengthAdjust="spacingAndGlyphs">CD8 T cell expansion</text>
<rect x="355.8" y="189.8" width="116.69999999999999" height="79.80000000000001" fill="none" stroke="#7a7a7a" stroke-width="1.1" />
<text x="353.8" y="193.5" font-size="6.2" font-weight="bold" fill="#000" text-anchor="end">3000</text>
<text x="353.8" y="206.0" font-size="6.2" font-weight="bold" fill="#000" text-anchor="end">2500</text>
<text x="353.8" y="219.7" font-size="6.2" font-weight="bold" fill="#000" text-anchor="end">2000</text>
<text x="353.8" y="233.0" font-size="6.2" font-weight="bold" fill="#000" text-anchor="end">1500</text>
<text x="353.8" y="246.39999999999998" font-size="6.2" font-weight="bold" fill="#000" text-anchor="end">1000</text>
<text x="353.8" y="260.0" font-size="6.2" font-weight="bold" fill="#000" text-anchor="end">500</text>
<text x="353.8" y="273.4" font-size="6.2" font-weight="bold" fill="#000" text-anchor="end">0</text>
<text x="332.7" y="227.8" font-size="6.6" font-weight="bold" fill="#000" text-anchor="middle" textLength="85.6" lengthAdjust="spacingAndGlyphs" transform="rotate(-90 332.7 227.8)">IFN-&#947; spots / 10<tspan font-size="4.4" dy="-2.4">6</tspan><tspan dy="2.4"> splenocytes</tspan></text>
<polyline points="390.75,233.8 390.75,218" fill="none" stroke="#8a8a8a" stroke-width="0.9" stroke-linejoin="round" />
<polyline points="389.45,218 392.05,218" fill="none" stroke="#8a8a8a" stroke-width="0.9" stroke-linejoin="round" />
<rect x="386" y="233.8" width="9.5" height="35.80000000000001" fill="#878787" stroke="#505050" stroke-width="1.0" />
<polyline points="414.15,212.3 414.15,198.5" fill="none" stroke="#8a8a8a" stroke-width="0.9" stroke-linejoin="round" />
<polyline points="412.84999999999997,198.5 415.45,198.5" fill="none" stroke="#8a8a8a" stroke-width="0.9" stroke-linejoin="round" />
<rect x="409.5" y="212.3" width="9.300000000000011" height="57.30000000000001" fill="#878787" stroke="#505050" stroke-width="1.0" />
<rect x="432.5" y="261.6" width="10.0" height="8.0" fill="#878787" stroke="#505050" stroke-width="1.0" />
<rect x="455.5" y="267.5" width="10.699999999999989" height="2.1000000000000227" fill="#878787" stroke="#505050" stroke-width="1.0" />
<text x="412.2" y="201.4" font-size="10.5" font-weight="bold" fill="#000" textLength="4.1" lengthAdjust="spacingAndGlyphs">*</text>
<text x="433.3" y="262.8" font-size="9.2" font-weight="bold" fill="#000" textLength="8.4" lengthAdjust="spacingAndGlyphs">**</text>
<text x="455" y="269.1" font-size="9.2" font-weight="bold" fill="#000" textLength="12" lengthAdjust="spacingAndGlyphs">***</text>
<text x="360.6" y="277.8" font-size="7.0" font-weight="bold" fill="#000" textLength="12.599999999999966" lengthAdjust="spacingAndGlyphs">GFP</text>
<text x="381.4" y="277.8" font-size="7.0" font-weight="bold" fill="#000" textLength="16.400000000000034" lengthAdjust="spacingAndGlyphs">K82A</text>
<text x="405.2" y="277.8" font-size="7.0" font-weight="bold" fill="#000" textLength="18.400000000000034" lengthAdjust="spacingAndGlyphs">MKK6</text>
<text x="430.8" y="277.8" font-size="7.0" font-weight="bold" fill="#000" textLength="14.199999999999989" lengthAdjust="spacingAndGlyphs">MEK</text>
<text x="454.3" y="277.8" font-size="7.0" font-weight="bold" fill="#000" textLength="13.899999999999977" lengthAdjust="spacingAndGlyphs">IRF3</text>
<polyline points="380,279.8 469.3,279.8" fill="none" stroke="#888" stroke-width="1" stroke-linejoin="round" />
<text x="403.8" y="288.3" font-size="7.0" font-weight="bold" fill="#000" textLength="25.6" lengthAdjust="spacingAndGlyphs">NY-ESO</text>
<text x="382.3" y="295.7" font-size="7.2" font-weight="bold" fill="#000" textLength="62.4" lengthAdjust="spacingAndGlyphs">Lentivector vaccines</text>
</svg>
</body></html>
